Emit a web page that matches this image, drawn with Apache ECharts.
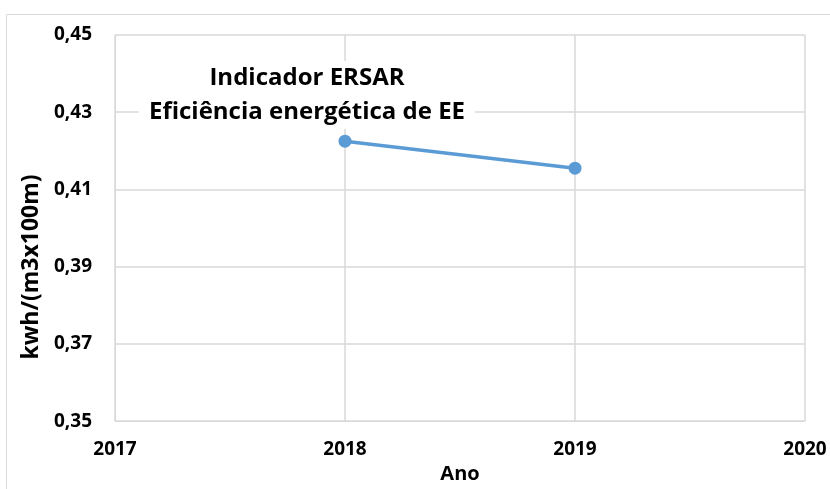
<!DOCTYPE html>
<html>
<head>
<meta charset="utf-8">
<script src="https://cdn.jsdelivr.net/npm/echarts@6/dist/echarts.min.js"></script>
<style>
  html, body { margin: 0; padding: 0; background: #fff; }
  #chart { width: 830px; height: 489px; }
</style>
</head>
<body>
<div id="chart"></div>
<script>
// Energy efficiency indicator (ERSAR) by year
const years = [2018, 2019];
const values = [0.4225, 0.4155];
const yTicks = [0.35, 0.37, 0.39, 0.41, 0.43, 0.45];
const xTicks = [2017, 2018, 2019, 2020];
const yName = 'kwh/(m3x100m)';

const FONT = '"Open Sans", "Noto Sans", sans-serif';
const GRID = '#d9d9d9';

const chart = echarts.init(document.getElementById('chart'));
chart.setOption({
  backgroundColor: '#fff',
  animation: false,
  graphic: [{
    type: 'rect',
    shape: { x: 6.5, y: 14.5, width: 900, height: 600 },
    style: { fill: 'none', stroke: '#d9d9d9', lineWidth: 1 },
    z: -1
  }, {
    // vertical axis title
    type: 'text',
    x: 31,
    y: 267,
    rotation: Math.PI / 2,
    style: {
      text: yName,
      fontFamily: FONT,
      fontWeight: 'bold',
      fontSize: 23,
      fill: '#000',
      align: 'center',
      verticalAlign: 'middle'
    }
  }],
  title: {
    text: 'Indicador ERSAR\nEficiência energética de EE',
    left: 297,
    top: 61,
    textAlign: 'center',
    backgroundColor: '#fff',
    padding: [0, 10, 0, 10],
    textStyle: {
      fontFamily: FONT,
      fontWeight: 'bold',
      fontSize: 24,
      lineHeight: 34,
      color: '#000',
      align: 'center'
    },
    z: 10
  },
  grid: { left: 115, right: 25, top: 35, bottom: 65, containLabel: false },
  xAxis: {
    type: 'value',
    min: xTicks[0],
    max: xTicks[xTicks.length - 1],
    interval: 1,
    name: 'Ano',
    nameLocation: 'middle',
    nameGap: 40,
    nameTextStyle: { fontFamily: FONT, fontWeight: 'bold', fontSize: 20, color: '#000' },
    axisLine: { show: true, lineStyle: { color: GRID } },
    axisTick: { show: false },
    axisLabel: {
      fontFamily: FONT, fontWeight: 'bold', fontSize: 19, color: '#000', margin: 19,
      formatter: v => String(v)
    },
    splitLine: { show: true, lineStyle: { color: GRID, width: 1.5 } }
  },
  yAxis: {
    type: 'value',
    min: yTicks[0],
    max: yTicks[yTicks.length - 1],
    interval: 0.02,
    axisLine: { show: true, lineStyle: { color: GRID } },
    axisTick: { show: false },
    axisLabel: {
      fontFamily: FONT, fontWeight: 'bold', fontSize: 19, color: '#000', margin: 23,
      formatter: v => v.toFixed(2).replace('.', ',')
    },
    splitLine: { show: true, lineStyle: { color: GRID, width: 1.5 } }
  },
  series: [{
    type: 'line',
    data: years.map((y, i) => [y, values[i]]),
    symbol: 'circle',
    symbolSize: 13,
    lineStyle: { color: '#5B9BD5', width: 3.5 },
    itemStyle: { color: '#5B9BD5' },
    z: 5
  }]
});
</script>
</body>
</html>
